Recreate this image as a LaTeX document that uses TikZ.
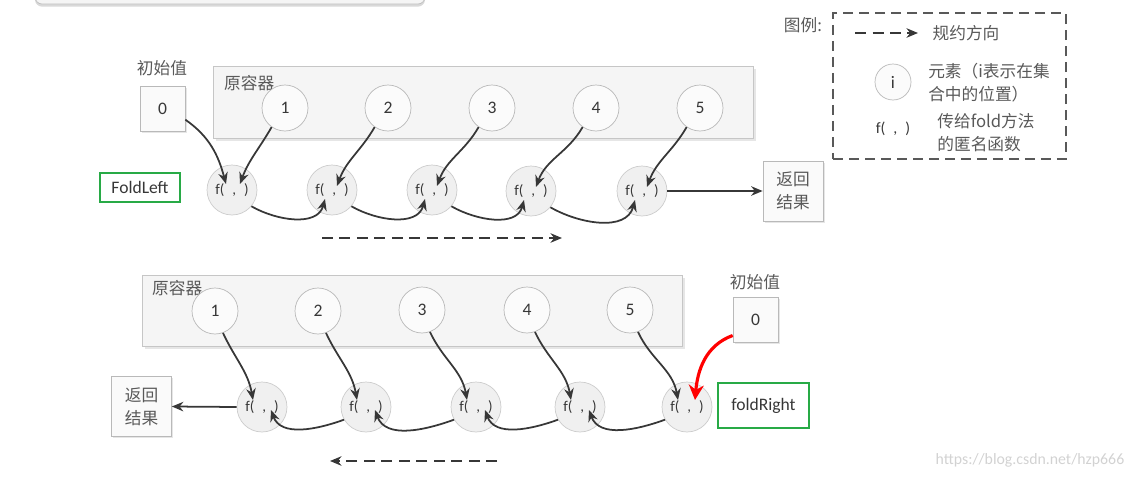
\documentclass[tikz,border=0pt]{standalone}
\usepackage{fontspec}
\setmainfont{Carlito}
\newfontfamily\cjk{Noto Sans CJK SC}
\usepackage{tikz}
\usetikzlibrary{arrows.meta,calc,shadows}
\definecolor{boxgreen}{RGB}{40,170,70}
\definecolor{ink}{RGB}{55,55,55}
\newcommand{\fslot}{f(\hspace{4.5pt},\hspace{4.5pt})}

\begin{document}
\begin{tikzpicture}[x=0.02cm, y=0.02cm, font=\fontsize{10}{12}\selectfont,
  elem/.style={circle, draw=gray!55, fill=gray!3, minimum size=0.92cm, inner sep=0pt, text=ink},
  fun/.style={circle, draw=gray!40, fill=gray!12, minimum size=1cm, inner sep=0pt, text=ink, font=\fontsize{8.5}{9}\selectfont},
  valbox/.style={draw=gray!55, fill=gray!4, minimum width=0.9cm, minimum height=0.9cm, inner sep=0pt, text=ink, drop shadow={opacity=0.2, shadow xshift=1pt, shadow yshift=-1pt}},
  resbox/.style={valbox, minimum width=1.2cm, minimum height=1.2cm, align=center, font=\cjk\fontsize{9.5}{13}\selectfont, text=gray!70!black},
  holder/.style={draw=gray!45, fill=gray!8, minimum width=10.8cm, minimum height=1.43cm, drop shadow={opacity=0.2, shadow xshift=1.5pt, shadow yshift=-1.5pt}},
  namebox/.style={draw=boxgreen, line width=1.3pt, inner sep=0pt, text=ink},
  cn/.style={font=\cjk\fontsize{9.5}{13}\selectfont, text=gray!70!black},
  flow/.style={-{Stealth[length=0.23cm, width=0.19cm]}, line width=1pt, draw=ink},
  way/.style={flow, dash pattern=on 0.22cm off 0.13cm, line width=1.2pt}]
\useasboundingbox (0,0) rectangle (1140,-477);
\draw[gray!50, fill=gray!8, rounded corners=4pt, drop shadow={opacity=0.3, shadow xshift=0pt, shadow yshift=-1.5pt}] (35,12) rectangle (425,-4);

% fold left
\node[holder] (box1) at (483,-102.5) {};
\node[cn, anchor=west] (lab1) at (218,-83) {原容器};
\node[elem] (a1) at (285,-108) {1};
\node[elem] (a2) at (388,-108) {2};
\node[elem] (a3) at (492,-108) {3};
\node[elem] (a4) at (596,-108) {4};
\node[elem] (a5) at (700,-108) {5};
\node[cn] (init1) at (162,-68) {初始值};
\node[valbox] (v1) at (162.5,-109) {0};
\node[fun] (f1) at (232,-190) {\fslot};
\node[fun] (f2) at (332,-190) {\fslot};
\node[fun] (f3) at (432,-190) {\fslot};
\node[fun] (f4) at (531,-191) {\fslot};
\node[fun] (f5) at (642,-191) {\fslot};
\node[resbox] (r1) at (793,-191) {返回\\结果};
\node[namebox, minimum width=1.6cm, minimum height=0.57cm] (fl) at (140,-187.5) {FoldLeft};

\coordinate (f1a) at ($(f1)+(-6,6)$);
\coordinate (f1b) at ($(f1)+(8,6)$);
\coordinate (f2a) at ($(f2)+(-7,-9)$);
\coordinate (f2b) at ($(f2)+(5,4)$);
\coordinate (f3a) at ($(f3)+(-7,-9)$);
\coordinate (f3b) at ($(f3)+(5,4)$);
\coordinate (f4a) at ($(f4)+(-7,-9)$);
\coordinate (f4b) at ($(f4)+(5,4)$);
\coordinate (f5a) at ($(f5)+(-7,-9)$);
\coordinate (f5b) at ($(f5)+(5,4)$);

\draw[flow] (v1.-25) to[out=-35, in=105] (f1a);
\draw[flow] (a1.-125) to[out=-120, in=70] (f1b);
\draw[flow] (a2.-125) to[out=-120, in=70] (f2b);
\draw[flow] (a3.-125) to[out=-120, in=70] (f3b);
\draw[flow] (a4.-125) to[out=-120, in=70] (f4b);
\draw[flow] (a5.-125) to[out=-120, in=70] (f5b);
\draw[flow] (f1.-40) to[out=-30, in=-105] (f2a);
\draw[flow] (f2.-40) to[out=-30, in=-105] (f3a);
\draw[flow] (f3.-40) to[out=-30, in=-105] (f4a);
\draw[flow] (f4.-40) to[out=-30, in=-105] (f5a);
\draw[flow] (f5.east) -- (r1.west);

\coordinate (d1s) at (322,-238);
\coordinate (d1e) at (562,-238);
\draw[way] (d1s) -- (d1e);

% fold right
\node[holder] (box2) at (412,-311) {};
\node[cn, anchor=west] (lab2) at (146,-288) {原容器};
\node[elem] (b1) at (215,-311) {1};
\node[elem] (b2) at (318,-311) {2};
\node[elem] (b3) at (422,-310) {3};
\node[elem] (b4) at (527,-310) {4};
\node[elem] (b5) at (630,-310) {5};
\node[cn] (init2) at (755,-282) {初始值};
\node[valbox] (v2) at (755.5,-319.5) {0};
\node[fun] (g1) at (262,-407) {\fslot};
\node[fun] (g2) at (366,-407) {\fslot};
\node[fun] (g3) at (476,-407) {\fslot};
\node[fun] (g4) at (580,-407) {\fslot};
\node[fun] (g5) at (687,-407) {\fslot};
\node[resbox] (r2) at (141.5,-406.5) {返回\\结果};
\node[namebox, minimum width=1.82cm, minimum height=0.9cm] (fr) at (763.5,-405.5) {foldRight};

\coordinate (g1a) at ($(g1)+(-9,7)$);
\coordinate (g1b) at ($(g1)+(9,-3)$);
\coordinate (g2a) at ($(g2)+(-9,7)$);
\coordinate (g2b) at ($(g2)+(9,-3)$);
\coordinate (g3a) at ($(g3)+(-9,7)$);
\coordinate (g3b) at ($(g3)+(9,-3)$);
\coordinate (g4a) at ($(g4)+(-9,7)$);
\coordinate (g4b) at ($(g4)+(9,-3)$);
\coordinate (g5a) at ($(g5)+(-9,7)$);
\coordinate (g5b) at ($(g5)+(8,7)$);

\draw[flow] (b1.-70) to[out=-65, in=100] (g1a);
\draw[flow] (b2.-70) to[out=-65, in=100] (g2a);
\draw[flow] (b3.-70) to[out=-65, in=100] (g3a);
\draw[flow] (b4.-70) to[out=-65, in=100] (g4a);
\draw[flow] (b5.-70) to[out=-65, in=100] (g5a);
\draw[flow] (g2.-150) to[out=-160, in=-70] (g1b);
\draw[flow] (g3.-150) to[out=-160, in=-70] (g2b);
\draw[flow] (g4.-150) to[out=-160, in=-70] (g3b);
\draw[flow] (g5.-150) to[out=-160, in=-70] (g4b);
\draw[flow] (g1.west) -- (r2.east);
\draw[flow, draw=red, line width=1.8pt, -{Stealth[length=0.3cm, width=0.3cm]}] (v2.215) to[out=200, in=85] (g5b);

\coordinate (d2s) at (497,-461);
\coordinate (d2e) at (330,-461);
\draw[way] (d2s) -- (d2e);

% legend
\node[cn] (lg) at (803,-25) {图例:};
\node[draw=gray!70!black, dash pattern=on 0.2cm off 0.12cm, line width=1.1pt, minimum width=4.66cm, minimum height=2.92cm] (legend) at (949.5,-86) {};
\coordinate (k1) at (855,-33);
\coordinate (k2) at (918,-33);
\draw[way] (k1) -- (k2);
\node[cn] (t1) at (966,-33) {规约方向};
\node[elem, minimum size=0.72cm] (ki) at (893,-82) {i};
\node[cn, align=left] (t2) at (989,-83) {元素（i表示在集\\合中的位置）};
\node[text=ink, font=\fontsize{9}{11}\selectfont] (kf) at (893,-129) {\fslot};
\node[cn, align=left] (t3) at (986,-133) {传给fold方法\\的匿名函数};

\node[text=gray!35, font=\fontsize{9}{11}\selectfont] (wm) at (1030,-460) {https://blog.csdn.net/hzp666};
\end{tikzpicture}
\end{document}
